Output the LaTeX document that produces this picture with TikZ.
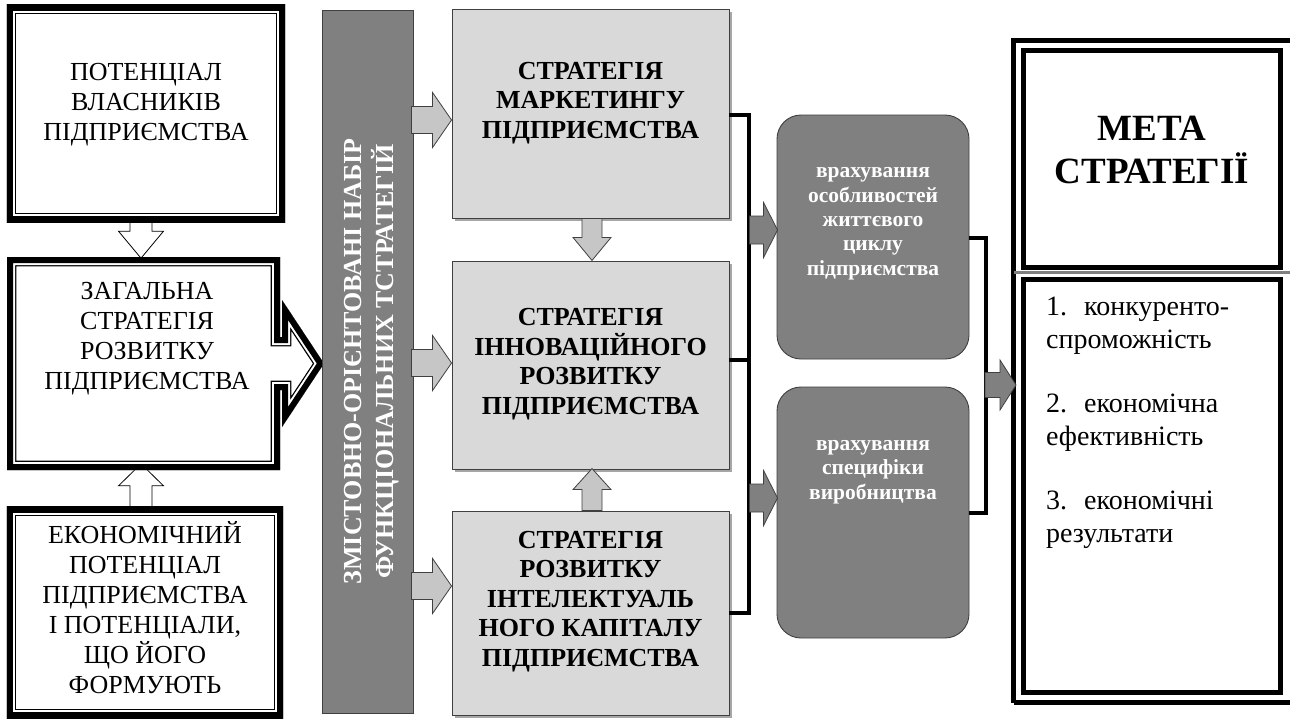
\documentclass[tikz,border=0pt]{standalone}
\usepackage{fontspec}
\setmainfont{Liberation Serif}
\usetikzlibrary{calc,shadows}

\definecolor{boxgray}{HTML}{D9D9D9}
\definecolor{bargray}{HTML}{808080}
\definecolor{edgegray}{HTML}{404040}
\definecolor{arrgray}{HTML}{C6C6C6}

% thick-thin double frame drawn on the inner side of a closed path
\newcommand{\dblframe}[1]{%
  \begin{scope}
    \clip #1;
    \draw[line width=18.6pt, line join=miter] #1;
    \draw[line width=16pt, white, line join=miter] #1;
    \draw[line width=12pt, line join=miter] #1;
  \end{scope}}

\tikzset{
  pics/rarrow/.style args={#1/#2/#3/#4}{code={
    \path[pic actions] (0,-#3) -- (#1-#2,-#3) -- (#1-#2,-#4) -- (#1,0)
      -- (#1-#2,#4) -- (#1-#2,#3) -- (0,#3) -- cycle;}},
  % multi-line labels are anchored at the baseline of their last line
  ltext/.style={font=\fontsize{26}{30}\selectfont, align=center, anchor=base, inner sep=0pt},
  mtext/.style={font=\fontsize{26}{29.5}\selectfont\bfseries, align=center, anchor=base, inner sep=0pt},
  rtext/.style={font=\fontsize{21.5}{24.3}\selectfont\bfseries, text=white, align=center, anchor=base, inner sep=0pt},
  bartext/.style={font=\fontsize{26}{32}\selectfont\bfseries, text=white, align=center, rotate=90, inner sep=0pt},
  gtext/.style={font=\fontsize{37}{43}\selectfont\bfseries, align=center, anchor=base, inner sep=0pt},
  listtext/.style={font=\fontsize{28}{32.3}\selectfont, align=left, anchor=base west, inner sep=0pt},
  plainbox/.style={rectangle, inner sep=0pt},
  mbox/.style={rectangle, inner sep=0pt, fill=boxgray, draw=edgegray, line width=0.9pt,
    drop shadow={shadow xshift=2.5pt, shadow yshift=-2.5pt, fill=black, opacity=0.35}},
  barbox/.style={rectangle, inner sep=0pt, fill=bargray, draw=edgegray, line width=0.9pt},
  rbox/.style={rectangle, rounded corners=24pt, inner sep=0pt, fill=bargray, draw=edgegray, line width=0.9pt},
  gbox/.style={rectangle, inner sep=0pt, draw, line width=5pt},
  bus/.style={line width=4pt, line join=miter},
  warr/.style={fill=white, draw=black, line width=0.8pt},
  larr/.style={fill=arrgray, draw=edgegray, line width=0.8pt},
  darr/.style={fill=bargray, draw=edgegray, line width=0.8pt},
}

\begin{document}
\begin{tikzpicture}[x=1pt, y=-1pt]
\useasboundingbox[fill=white] (0,0) rectangle (1290,721);

% ---- left column ----
\node[plainbox, minimum width=278pt, minimum height=217pt] (b1) at (146,113.5) {};
\node[plainbox, minimum width=273pt, minimum height=213pt] (b2) at (143.5,363.5) {};
\node[plainbox, minimum width=276pt, minimum height=211pt] (b3) at (145,612.5) {};

\pic[warr, rotate=-90] at ($(b1.south)+(-5,-1)$) {rarrow=37/27/11/22.5};
\pic[warr, rotate=90] at ($(b3.north)+(-4,0)$) {rarrow=43/22/11/22.5};

\dblframe{(b1.north west) rectangle (b1.south east)}
\dblframe{(7,257) -- (280,257) -- (280,337) -- (282,337) -- (282,300) -- (324,363.5)
  -- (282,427) -- (282,390) -- (280,390) -- (280,470) -- (7,470) -- cycle}
\dblframe{(b3.north west) rectangle (b3.south east)}

\node[ltext] (b1t) at (146,140) {ПОТЕНЦІАЛ\\ВЛАСНИКІВ\\ПІДПРИЄМСТВА};
\node[ltext] (b2t) at (147,389) {ЗАГАЛЬНА\\СТРАТЕГІЯ\\РОЗВИТКУ\\ПІДПРИЄМСТВА};
\node[ltext] (b3t) at (145,693) {ЕКОНОМІЧНИЙ\\ПОТЕНЦІАЛ\\ПІДПРИЄМСТВА\\І ПОТЕНЦІАЛИ,\\ЩО ЙОГО\\ФОРМУЮТЬ};

% ---- vertical bar ----
\node[barbox, minimum width=91pt, minimum height=703pt] (bar) at (367.5,361.5) {};
\node[bartext] (bart) at ($(bar.center)+(4.5,0)$) {ЗМІСТОВНО-ОРІЄНТОВАНІ НАБІР\\ФУНКЦІОНАЛЬНИХ ТСТРАТЕГІЙ};

% ---- functional strategies ----
\node[mbox, minimum width=277pt, minimum height=209pt] (m1) at (590.5,113.5) {};
\node[mbox, minimum width=277pt, minimum height=208pt] (m2) at (590.5,365) {};
\node[mbox, minimum width=277pt, minimum height=204pt] (m3) at (590.5,613) {};

\node[mtext] (m1t) at (590.5,138) {СТРАТЕГІЯ\\МАРКЕТИНГУ\\ПІДПРИЄМСТВА};
\node[mtext] (m2t) at (590.5,414) {СТРАТЕГІЯ\\ІННОВАЦІЙНОГО\\РОЗВИТКУ\\ПІДПРИЄМСТВА};
\node[mtext] (m3t) at (590.5,666) {СТРАТЕГІЯ\\РОЗВИТКУ\\ІНТЕЛЕКТУАЛЬ\\НОГО КАПІТАЛУ\\ПІДПРИЄМСТВА};

\pic[larr] at ($(m1.west)+(-40,6.5)$) {rarrow=40/19/13.5/27.5};
\pic[larr] at ($(m2.west)+(-40,-2)$) {rarrow=40/19/13.5/27.5};
\pic[larr] at ($(m3.west)+(-40,-27)$) {rarrow=40/19/13.5/27.5};
\pic[larr, rotate=-90] at ($(m1.south)+(1.5,0)$) {rarrow=42/23/10/19};
\pic[larr, rotate=90] at ($(m3.north)+(1.5,0)$) {rarrow=42/21/10/19};

% ---- first collecting line ----
\coordinate (bus) at (749,0);
\draw[bus] ($(m1.east)+(0,1.5)$) -- ($(m1.east -| bus)+(0,1.5)$) -- (m3.east -| bus) -- (m3.east);
\draw[bus] ($(m2.east)+(0,-5)$) -- ($(m2.east -| bus)+(0,-5)$);

% ---- considerations ----
\node[rbox, minimum width=192pt, minimum height=244pt] (r1) at (873,237) {};
\node[rbox, minimum width=192pt, minimum height=251pt] (r2) at (873,512.5) {};
\node[rtext] (r1t) at (873,275) {врахування\\особливостей\\життєвого\\циклу\\підприємства};
\node[rtext] (r2t) at (873,499) {врахування\\специфіки\\виробництва};

\pic[darr] at ($(r1.west)+(-27,-7)$) {rarrow=28/14/14/27.5};
\pic[darr] at ($(r2.west)+(-27,-14.5)$) {rarrow=28/14/14/27.5};

% ---- second collecting line ----
\coordinate (bus2) at (986,0);
\draw[bus] ($(r1.east)+(0,1)$) -- ($(r1.east -| bus2)+(0,1)$) -- (r2.east -| bus2) -- (r2.east);

% ---- goal ----
\draw[line width=5pt] (1013.5,702.5) -- (1013.5,40) -- (1300,40);
\draw[line width=5pt] (1013.5,702.5) -- (1300,702.5);
\node[gbox, minimum width=257pt, minimum height=216.5pt] (g1) at (1152,158.75) {};
\node[gbox, minimum width=257pt, minimum height=412.5pt] (g2) at (1152,485.75) {};
\draw[gray, line width=2.5pt] (1013.5,272.5) -- (1290,272.5);

\pic[darr] at ($(g2.west)+(-36,-100.75)$) {rarrow=31/16/12.5/25};

\node[gtext] (g1t) at (1152,183) {МЕТА\\СТРАТЕГІЇ};
\node[listtext] (g2t) at (1046,542) {1.\hspace{17pt}конкуренто-\\спроможність\\[32.3pt]2.\hspace{17pt}економічна\\ефективність\\[32.3pt]3.\hspace{17pt}економічні\\результати};
\end{tikzpicture}
\end{document}
